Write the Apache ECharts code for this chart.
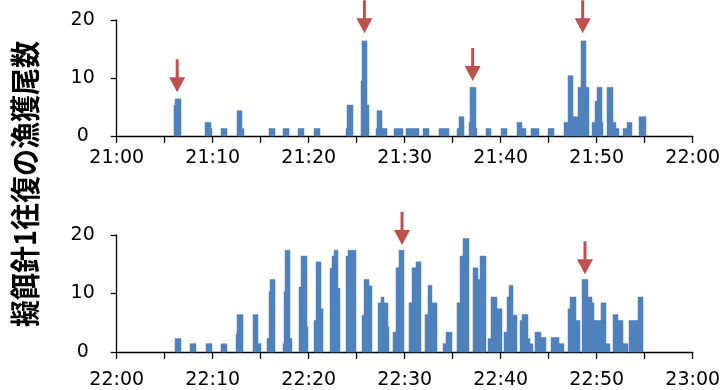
<!DOCTYPE html>
<html>
<head>
<meta charset="utf-8">
<script src="https://cdn.jsdelivr.net/npm/echarts@6/dist/echarts.min.js"></script>
<style>
  html, body { margin: 0; padding: 0; background: #fff; }
  #chart { width: 725px; height: 390px; }
</style>
</head>
<body>
<div id="chart"></div>
<script>
// 各バー: [開始(分), 終了(分), 漁獲尾数]
const topHour = 21;
const bottomHour = 22;
const yTicks = [0, 10, 20];

const topBars = [
  [5.97, 6.07, 5.3], [6.07, 6.67, 6.4],
  [9.23, 9.79, 2.35], [9.79, 9.96, 1.3],
  [10.86, 11.49, 1.3],
  [12.53, 13.08, 4.36], [13.08, 13.26, 1.3],
  [15.86, 16.46, 1.3],
  [17.36, 17.95, 1.3],
  [18.89, 19.48, 1.3],
  [20.55, 21.15, 1.3],
  [23.9, 24.04, 1.3], [24.04, 24.58, 5.35],
  [25.45, 25.58, 9.4], [25.58, 26.1, 16.4], [26.1, 26.25, 5.35],
  [26.98, 27.11, 1.3], [27.11, 27.64, 4.36], [27.64, 28.19, 1.3],
  [28.89, 29.85, 1.3],
  [30.14, 31.52, 1.3],
  [31.94, 32.53, 1.3],
  [33.57, 34.61, 1.3],
  [35.45, 35.66, 1.3], [35.66, 36.21, 3.33],
  [36.7, 36.83, 2.35], [36.83, 37.4, 8.4], [37.4, 37.53, 1.3],
  [38.44, 38.99, 1.3],
  [40.03, 40.63, 1.3],
  [41.67, 42.25, 2.35], [42.25, 42.6, 1.3],
  [43.16, 43.96, 1.3],
  [44.93, 45.52, 1.3],
  [46.56, 46.98, 2.35], [46.98, 47.53, 10.4], [47.53, 48.08, 3.33],
  [48.08, 48.33, 8.4], [48.33, 48.89, 16.4], [48.89, 49.2, 8.4],
  [49.5, 49.85, 2.35], [49.85, 50.06, 6], [50.06, 50.55, 8.4], [50.55, 50.69, 2.35],
  [51.1, 51.73, 8.4], [51.73, 52.01, 2.35], [52.01, 52.35, 1.3],
  [52.77, 53.13, 1.3], [53.13, 53.65, 2.35],
  [54.44, 55.14, 3.33]
];

const bottomBars = [
  [6.07, 6.7, 2.3],
  [7.64, 8.26, 1.43],
  [9.3, 9.93, 1.43],
  [10.86, 11.49, 1.4],
  [12.46, 12.56, 3.1], [12.56, 13.13, 6.4],
  [14.17, 14.75, 6.4], [14.75, 15.0, 1.43],
  [15.69, 15.83, 2.3], [15.83, 15.97, 10.3], [15.97, 16.49, 12.4],
  [17.32, 17.46, 1.4], [17.46, 17.53, 10.3], [17.53, 18.05, 17.4], [18.05, 18.29, 2.3],
  [19.02, 19.2, 11.1], [19.2, 19.79, 16.4], [19.79, 19.93, 4.3],
  [20.55, 20.73, 5.4], [20.73, 21.25, 15.4], [21.25, 21.52, 7.4],
  [22.22, 22.4, 14.3], [22.4, 22.64, 16.4], [22.64, 23.09, 17.4], [23.09, 23.3, 10.9],
  [23.89, 24.06, 16.4], [24.06, 24.93, 17.4],
  [25.5, 25.74, 6.3], [25.74, 26.24, 12.4], [26.24, 26.55, 11.3],
  [27.25, 27.5, 8.4], [27.5, 27.88, 9.4], [27.88, 28.23, 8.4], [28.23, 28.37, 4.3],
  [28.81, 29.06, 3.4], [29.06, 29.4, 14.4], [29.4, 29.96, 17.4],
  [30.47, 30.72, 8.4], [30.72, 31.14, 14.4], [31.14, 31.69, 15.4],
  [32.15, 32.43, 6.4], [32.43, 32.88, 11.4], [32.88, 33.33, 8.4],
  [34.02, 34.3, 1.43], [34.3, 34.9, 3.4],
  [35.42, 35.76, 8.4], [35.76, 36.1, 16.4], [36.1, 36.7, 19.4],
  [37.08, 37.6, 14.4], [37.6, 37.84, 12.4], [37.84, 38.44, 16.4],
  [38.71, 38.99, 2.3], [38.99, 39.58, 9.4], [39.58, 40.1, 7.4],
  [40.37, 40.63, 3.4], [40.63, 40.86, 9.4], [40.86, 41.31, 11.4], [41.31, 41.67, 6.3],
  [42.01, 42.25, 5.4], [42.25, 42.81, 6.4], [42.81, 43.05, 2.3], [43.05, 43.33, 1.4],
  [43.6, 44.17, 3.4], [44.17, 44.69, 2.5],
  [45.24, 46.07, 2.5], [46.07, 46.63, 1.43],
  [47.04, 47.25, 7.4], [47.25, 47.84, 9.4], [47.84, 48.26, 5.4],
  [48.47, 49.12, 12.4], [49.12, 49.48, 9.4], [49.48, 49.72, 8.4], [49.72, 50.0, 5.4],
  [50.06, 50.42, 5.4], [50.42, 50.97, 8.4], [50.97, 51.39, 1.43],
  [51.73, 52.25, 6.4], [52.25, 52.74, 5.4], [52.74, 53.23, 1.43],
  [53.4, 54.34, 5.4], [54.34, 54.85, 9.4]
];

// 矢印: [位置(分), 先端の高さ]
const topArrows = [[6.3, 7.53], [25.8, 17.7], [37.08, 9.5], [48.54, 17.7]];
const bottomArrows = [[29.72, 18.3], [36.3, 20.5], [48.78, 13.3]];

const yTitle = '擬餌針1往復の漁獲尾数';

const BAR_COLOR = '#4f81bd';
const ARROW_COLOR = '#c0504d';
const FONT = '"DejaVu Sans", sans-serif';
const arrowPath = 'path://M6.5,0 L9.5,0 L9.5,18 L16,18 L8,33 L0,18 L6.5,18 Z';

const chart = echarts.init(document.getElementById('chart'));

const xAxisFor = (hour, gridIndex, margin) => ({
  type: 'value',
  gridIndex,
  min: 0,
  max: 60,
  interval: 5,
  axisLine: { lineStyle: { color: '#000', width: 1.3 } },
  axisTick: { length: 7, lineStyle: { color: '#000', width: 1.3 } },
  splitLine: { show: false },
  axisLabel: {
    margin,
    color: '#000',
    fontFamily: FONT,
    fontSize: 19,
    formatter: (v) => v % 10 === 0
      ? (hour + Math.floor(v / 60)) + ':' + String(v % 60).padStart(2, '0')
      : ''
  }
});

const yAxisFor = (gridIndex) => ({
  type: 'value',
  gridIndex,
  min: yTicks[0],
  max: yTicks[yTicks.length - 1],
  interval: yTicks[1] - yTicks[0],
  axisLine: { show: true, lineStyle: { color: '#000', width: 1.3 } },
  axisTick: { show: true, length: 6, lineStyle: { color: '#000', width: 1.3 } },
  splitLine: { show: false },
  axisLabel: {
    margin: 34,
    align: 'center',
    color: '#000',
    fontFamily: FONT,
    fontSize: 19
  }
});

// 隣り合うバーの隙間が出ないよう x 端を整数ピクセルにそろえる
const renderBar = (params, api) => {
  const p0 = api.coord([api.value(0), api.value(2)]);
  const p1 = api.coord([api.value(1), 0]);
  const x0 = Math.round(p0[0]);
  const x1 = Math.max(Math.round(p1[0]), x0 + 1);
  return {
    type: 'rect',
    shape: { x: x0, y: p0[1], width: x1 - x0, height: p1[1] - p0[1] },
    style: { fill: BAR_COLOR, stroke: BAR_COLOR, lineWidth: 0.5 }
  };
};

const barSeries = (data, idx, arrows) => ({
  type: 'custom',
  xAxisIndex: idx,
  yAxisIndex: idx,
  renderItem: renderBar,
  encode: { x: [0, 1], y: 2 },
  data,
  markPoint: {
    symbol: arrowPath,
    symbolSize: [16, 33],
    symbolOffset: [0, '-50%'],
    itemStyle: { color: ARROW_COLOR },
    label: { show: false },
    animation: false,
    data: arrows.map(a => ({ coord: [a[0], a[1]] }))
  }
});

const option = {
  animation: false,
  backgroundColor: '#fff',
  grid: [
    { left: 116.7, right: 32.3, top: 20, height: 116 },
    { left: 116.7, right: 32.3, top: 235, height: 117 }
  ],
  xAxis: [xAxisFor(topHour, 0, 13), xAxisFor(bottomHour, 1, 19)],
  yAxis: [yAxisFor(0), yAxisFor(1)],
  series: [
    barSeries(topBars, 0, topArrows),
    barSeries(bottomBars, 1, bottomArrows)
  ],
  graphic: [{
    type: 'text',
    x: 25,
    y: 184,
    rotation: Math.PI / 2,
    scaleY: 1.1,
    style: {
      text: yTitle,
      fill: '#000',
      font: 'bold 27px "Noto Sans CJK JP", sans-serif',
      align: 'center',
      verticalAlign: 'middle'
    }
  }]
};

chart.setOption(option);
</script>
</body>
</html>
